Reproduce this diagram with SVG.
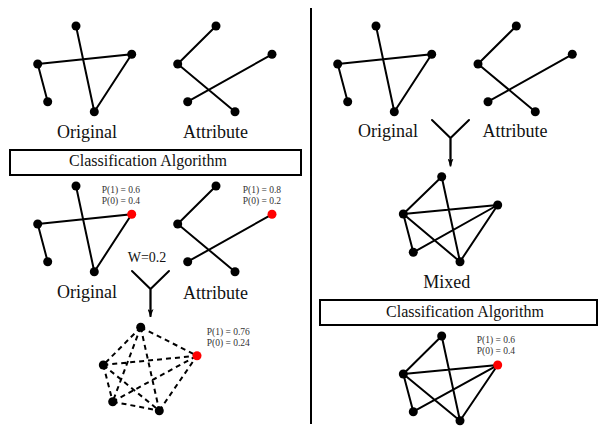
<svg xmlns="http://www.w3.org/2000/svg" width="607" height="426" viewBox="0 0 607 426">
<style>
.e{stroke:#000;stroke-width:2;fill:none;stroke-linecap:round}
.d{stroke:#000;stroke-width:2;fill:none;stroke-dasharray:5,4}
.n{fill:#000}
.r{fill:#ff0000}
.lbl{font-family:"Liberation Serif","Times New Roman",serif;font-size:18px;fill:#111;text-anchor:middle}
.cls{font-family:"Liberation Serif","Times New Roman",serif;font-size:16px;fill:#111;text-anchor:middle}
.p{font-family:"Liberation Serif","Times New Roman",serif;font-size:9.5px;fill:#333}
.w{font-family:"Liberation Serif","Times New Roman",serif;font-size:14px;fill:#111;text-anchor:middle}
.box{fill:#fff;stroke:#000;stroke-width:2}
</style>
<defs>
<marker id="ah" markerWidth="8" markerHeight="6" refX="8" refY="3" orient="auto" markerUnits="userSpaceOnUse">
<path d="M0,0 L8,3 L0,6 L2,3 z" fill="#000"/>
</marker>
</defs>
<rect width="607" height="426" fill="#fff"/>

<g id="connectors">
<line x1="311" y1="8" x2="311" y2="424" stroke="#000" stroke-width="2"/>
<path class="e" d="M132,271 L150.5,289 L169,271 M150.5,289 L150.5,316"/>
<line x1="150.5" y1="289" x2="150.5" y2="317" stroke="#000" stroke-width="1.5" marker-end="url(#ah)"/>
<path class="e" d="M432,120 L450.5,138 L469,120 M450.5,138 L450.5,165"/>
<line x1="450.5" y1="138" x2="450.5" y2="166.5" stroke="#000" stroke-width="1.5" marker-end="url(#ah)"/>
</g>

<g id="orig-top">
<path class="e" d="M76,26 L94.3,111.7 M37.7,64 L131.7,54.3 L94.3,111.7 M37.7,64 L47.7,101.7"/>
<circle class="n" cx="76" cy="26" r="4.5"/><circle class="n" cx="37.7" cy="64" r="4.5"/><circle class="n" cx="131.7" cy="54.3" r="4.5"/><circle class="n" cx="47.7" cy="101.7" r="4.5"/><circle class="n" cx="94.3" cy="111.7" r="4.5"/>
<text class="lbl" x="87" y="138">Original</text>
</g>
<g id="attr-top">
<path class="e" d="M216,26 L177.7,64 L235,111.7 M272,54.3 L187.7,101.7"/>
<circle class="n" cx="216" cy="26" r="4.5"/><circle class="n" cx="177.7" cy="64" r="4.5"/><circle class="n" cx="272" cy="54.3" r="4.5"/><circle class="n" cx="187.7" cy="101.7" r="4.5"/><circle class="n" cx="235" cy="111.7" r="4.5"/>
<text class="lbl" x="215.5" y="138">Attribute</text>
</g>
<g id="classify-left">
<rect class="box" x="10" y="150" width="291" height="25"/>
<text class="cls" x="148" y="166">Classification Algorithm</text>
</g>
<g id="orig-mid">
<path class="e" d="M76,186 L94.3,271.7 M37.7,224 L131.7,214.3 L94.3,271.7 M37.7,224 L47.7,261.7"/>
<circle class="n" cx="76" cy="186" r="4.5"/><circle class="n" cx="37.7" cy="224" r="4.5"/><circle class="r" cx="131.7" cy="214.3" r="4.5"/><circle class="n" cx="47.7" cy="261.7" r="4.5"/><circle class="n" cx="94.3" cy="271.7" r="4.5"/>
<text class="p" x="101.7" y="193">P(1) = 0.6</text>
<text class="p" x="101.7" y="204">P(0) = 0.4</text>
<text class="lbl" x="87" y="298">Original</text>
</g>
<g id="attr-mid">
<path class="e" d="M216,186 L177.7,224 L235,271.7 M272,214.3 L187.7,261.7"/>
<circle class="n" cx="216" cy="186" r="4.5"/><circle class="n" cx="177.7" cy="224" r="4.5"/><circle class="r" cx="272" cy="214.3" r="4.5"/><circle class="n" cx="187.7" cy="261.7" r="4.5"/><circle class="n" cx="235" cy="271.7" r="4.5"/>
<text class="p" x="242.7" y="193">P(1) = 0.8</text>
<text class="p" x="242.7" y="204">P(0) = 0.2</text>
<text class="lbl" x="215.5" y="299">Attribute</text>
</g>
<g id="weight">
<text class="w" x="147" y="261.5">W=0.2</text>
</g>
<g id="combined">
<path class="d" d="M140.7,327.3 L103.3,365 M140.7,327.3 L197,355.7 M140.7,327.3 L112.7,401.7 M140.7,327.3 L159.3,410.7 M103.3,365 L197,355.7 M103.3,365 L112.7,401.7 M103.3,365 L159.3,410.7 M112.7,401.7 L197,355.7 M112.7,401.7 L159.3,410.7 M159.3,410.7 L197,355.7"/>
<circle class="n" cx="140.7" cy="327.3" r="4.5"/><circle class="n" cx="103.3" cy="365" r="4.5"/><circle class="r" cx="197" cy="355.7" r="4.5"/><circle class="n" cx="112.7" cy="401.7" r="4.5"/><circle class="n" cx="159.3" cy="410.7" r="4.5"/>
<text class="p" x="206.7" y="334.7">P(1) = 0.76</text>
<text class="p" x="206.7" y="345.7">P(0) = 0.24</text>
</g>

<g id="orig-right">
<path class="e" d="M376,26 L394.3,111.7 M337.7,64 L431.7,54.3 L394.3,111.7 M337.7,64 L347.7,101.7"/>
<circle class="n" cx="376" cy="26" r="4.5"/><circle class="n" cx="337.7" cy="64" r="4.5"/><circle class="n" cx="431.7" cy="54.3" r="4.5"/><circle class="n" cx="347.7" cy="101.7" r="4.5"/><circle class="n" cx="394.3" cy="111.7" r="4.5"/>
<text class="lbl" x="388" y="137">Original</text>
</g>
<g id="attr-right">
<path class="e" d="M516.3,26 L478,64 L535.3,111.7 M572.3,54.3 L488,101.7"/>
<circle class="n" cx="516.3" cy="26" r="4.5"/><circle class="n" cx="478" cy="64" r="4.5"/><circle class="n" cx="572.3" cy="54.3" r="4.5"/><circle class="n" cx="488" cy="101.7" r="4.5"/><circle class="n" cx="535.3" cy="111.7" r="4.5"/>
<text class="lbl" x="515" y="137">Attribute</text>
</g>
<g id="mixed">
<path class="e" d="M441.7,176.7 L403.3,214 M441.7,176.7 L460,261.7 M403.3,214 L497.7,205 M403.3,214 L413.3,252.3 M403.3,214 L460,261.7 M413.3,252.3 L497.7,205 M497.7,205 L460,261.7"/>
<circle class="n" cx="441.7" cy="176.7" r="4.5"/><circle class="n" cx="403.3" cy="214" r="4.5"/><circle class="n" cx="497.7" cy="205" r="4.5"/><circle class="n" cx="413.3" cy="252.3" r="4.5"/><circle class="n" cx="460" cy="261.7" r="4.5"/>
<text class="lbl" x="446.7" y="288">Mixed</text>
</g>
<g id="classify-right">
<rect class="box" x="320" y="300" width="277" height="25"/>
<text class="cls" x="465" y="316.7">Classification Algorithm</text>
</g>
<g id="result-right">
<path class="e" d="M441.7,336 L403.3,374 M441.7,336 L460,420.7 M403.3,374 L497.7,365 M403.3,374 L413.3,411.7 M403.3,374 L460,420.7 M413.3,411.7 L497.7,365 M497.7,365 L460,420.7"/>
<circle class="n" cx="441.7" cy="336" r="4.5"/><circle class="n" cx="403.3" cy="374" r="4.5"/><circle class="r" cx="497.7" cy="365" r="4.5"/><circle class="n" cx="413.3" cy="411.7" r="4.5"/><circle class="n" cx="460" cy="420.7" r="4.5"/>
<text class="p" x="476.7" y="343.3">P(1) = 0.6</text>
<text class="p" x="476.7" y="354.3">P(0) = 0.4</text>
</g>
</svg>
